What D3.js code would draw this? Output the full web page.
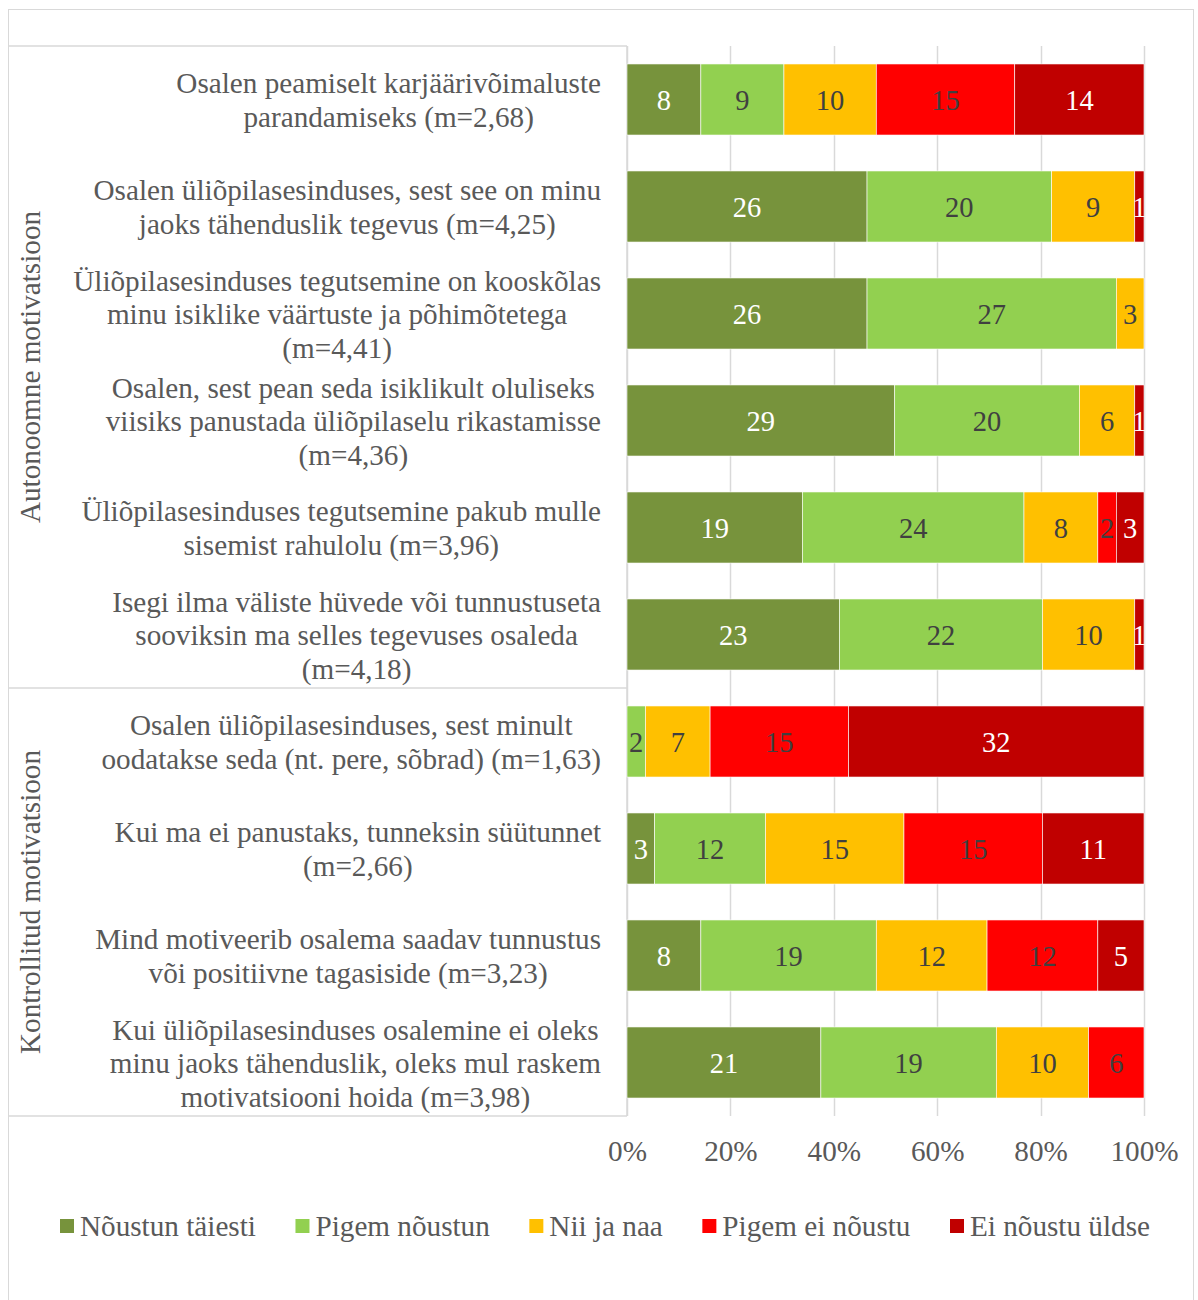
<!DOCTYPE html>
<html>
<head>
<meta charset="utf-8">
<script src="https://cdn.jsdelivr.net/npm/d3@7"></script>
<style>
  body { margin: 0; background: #fff; }
  text { font-family: "Liberation Serif", "Times New Roman", serif; }
</style>
</head>
<body>
<svg id="chart" width="1198" height="1300"></svg>
<script>
// data (counts, 56 respondents per row)
var questions = [
  ["Osalen peamiselt karjäärivõimaluste", "parandamiseks (m=2,68)"],
  ["Osalen üliõpilasesinduses, sest see on minu", "jaoks tähenduslik tegevus (m=4,25)"],
  ["Üliõpilasesinduses tegutsemine on kooskõlas", "minu isiklike väärtuste ja põhimõtetega", "(m=4,41)"],
  ["Osalen, sest pean seda isiklikult oluliseks", "viisiks panustada üliõpilaselu rikastamisse", "(m=4,36)"],
  ["Üliõpilasesinduses tegutsemine pakub mulle", "sisemist rahulolu (m=3,96)"],
  ["Isegi ilma väliste hüvede või tunnustuseta", "sooviksin ma selles tegevuses osaleda", "(m=4,18)"],
  ["Osalen üliõpilasesinduses, sest minult", "oodatakse seda (nt. pere, sõbrad) (m=1,63)"],
  ["Kui ma ei panustaks, tunneksin süütunnet", "(m=2,66)"],
  ["Mind motiveerib osalema saadav tunnustus", "või positiivne tagasiside (m=3,23)"],
  ["Kui üliõpilasesinduses osalemine ei oleks", "minu jaoks tähenduslik, oleks mul raskem", "motivatsiooni hoida (m=3,98)"]
];
var seriesNames = ["Nõustun täiesti", "Pigem nõustun", "Nii ja naa", "Pigem ei nõustu", "Ei nõustu üldse"];
var noustunTaiesti = [8, 26, 26, 29, 19, 23, 0, 3, 8, 21];
var pigemNoustun   = [9, 20, 27, 20, 24, 22, 2, 12, 19, 19];
var niiJaNaa       = [10, 9, 3, 6, 8, 10, 7, 15, 12, 10];
var pigemEiNoustu  = [15, 0, 0, 0, 2, 0, 15, 15, 12, 6];
var eiNoustuUldse  = [14, 1, 0, 1, 3, 1, 32, 11, 5, 0];
var groups = [
  { name: "Autonoomne motivatsioon", from: 0, to: 5 },
  { name: "Kontrollitud motivatsioon", from: 6, to: 9 }
];
var tickValues = [0, 0.2, 0.4, 0.6, 0.8, 1];

var colors = ["#77933C", "#92D050", "#FFC000", "#FF0000", "#C00000"];
var labelColors = ["#ffffff", "#404040", "#404040", "#404040", "#ffffff"];
var textColor = "#595959";
var fs = 29.2;

var allSeries = [noustunTaiesti, pigemNoustun, niiJaNaa, pigemEiNoustu, eiNoustuUldse];
var rows = questions.map(function(q, i) {
  var d = { idx: i };
  seriesNames.forEach(function(s, j) { d[s] = allSeries[j][i]; });
  return d;
});

var svg = d3.select("#chart");
var plotLeft = 627, plotRight = 1144, plotTop = 46, plotBottom = 1116, tableLeft = 8.5;

var x = d3.scaleLinear().domain([0, 1]).range([plotLeft, plotRight]);
var y = d3.scaleBand().domain(d3.range(questions.length)).range([plotTop, plotBottom]).paddingInner(0.336).paddingOuter(0.168);

var stack = d3.stack().keys(seriesNames).offset(d3.stackOffsetExpand);
var series = stack(rows);

// outer frame
svg.append("rect").attr("x", 8.5).attr("y", 9.5).attr("width", 1185).attr("height", 1300)
  .attr("fill", "none").attr("stroke", "#d9d9d9");

// gridlines
svg.append("g").selectAll("line").data(tickValues).enter().append("line")
  .attr("x1", function(d) { return Math.round(x(d)) + 0.5; })
  .attr("x2", function(d) { return Math.round(x(d)) + 0.5; })
  .attr("y1", plotTop).attr("y2", plotBottom)
  .attr("stroke", "#d9d9d9").attr("stroke-width", 1.5);

// category table lines
var step = y.step();
var tbl = svg.append("g").attr("stroke", "#d9d9d9").attr("stroke-width", 1.5);
tbl.append("line").attr("x1", tableLeft).attr("x2", plotLeft).attr("y1", plotTop).attr("y2", plotTop);
tbl.append("line").attr("x1", tableLeft).attr("x2", plotLeft).attr("y1", plotBottom).attr("y2", plotBottom);
tbl.append("line").attr("x1", plotLeft).attr("x2", plotLeft).attr("y1", plotTop).attr("y2", plotBottom);
tbl.append("line").attr("x1", tableLeft).attr("x2", plotLeft)
  .attr("y1", plotTop + step * groups[1].from).attr("y2", plotTop + step * groups[1].from);

// bars
var layer = svg.append("g").selectAll("g").data(series).enter().append("g")
  .attr("fill", function(d, i) { return colors[i]; });
layer.selectAll("rect").data(function(d) { return d; }).enter().append("rect")
  .attr("x", function(d) { return x(d[0]); })
  .attr("width", function(d) { return x(d[1]) - x(d[0]); })
  .attr("y", function(d) { return y(d.data.idx); })
  .attr("height", y.bandwidth())
  .attr("stroke", "#ffffff").attr("stroke-width", 0.6);

// bar labels
series.forEach(function(s, j) {
  svg.append("g").selectAll("text").data(s.filter(function(d) { return d.data[seriesNames[j]] > 0; }))
    .enter().append("text")
    .attr("x", function(d) { return (x(d[0]) + x(d[1])) / 2; })
    .attr("y", function(d) { return y(d.data.idx) + y.bandwidth() / 2; })
    .attr("dy", "0.36em")
    .attr("text-anchor", "middle")
    .attr("font-size", 28.5)
    .attr("fill", labelColors[j])
    .text(function(d) { return d.data[seriesNames[j]]; });
});

// category labels: block right aligned, lines centred within block
var lineH = 33.5;
questions.forEach(function(lines, i) {
  var g = svg.append("g");
  var cy = y(i) + y.bandwidth() / 2;
  var texts = lines.map(function(l, k) {
    return g.append("text")
      .attr("y", cy + (k - (lines.length - 1) / 2) * lineH)
      .attr("dy", "0.36em")
      .attr("text-anchor", "middle")
      .attr("font-size", fs)
      .attr("fill", textColor)
      .text(l);
  });
  var w = d3.max(texts, function(t) { return t.node().getComputedTextLength(); });
  texts.forEach(function(t) { t.attr("x", 601 - w / 2); });
});

// group labels
groups.forEach(function(gr) {
  var cy = plotTop + step * (gr.from + gr.to + 1) / 2;
  svg.append("text")
    .attr("transform", "translate(30," + cy + ") rotate(-90)")
    .attr("dy", "0.35em")
    .attr("text-anchor", "middle")
    .attr("font-size", fs)
    .attr("fill", textColor)
    .text(gr.name);
});

// x axis labels
var xAxis = d3.axisBottom(x).tickValues(tickValues).tickFormat(d3.format(".0%")).tickSize(0).tickPadding(24);
var ax = svg.append("g").attr("transform", "translate(0," + plotBottom + ")").call(xAxis);
ax.select(".domain").remove();
ax.selectAll("text").attr("font-size", fs).attr("fill", textColor)
  .attr("font-family", "Liberation Serif, Times New Roman, serif");

// legend, spread between x=60 and x=1150
var legend = svg.append("g");
var items = seriesNames.map(function(name, i) {
  var g = legend.append("g");
  g.append("rect").attr("width", 14).attr("height", 14).attr("y", -7).attr("fill", colors[i]);
  var t = g.append("text").attr("x", 20).attr("dy", "0.35em").attr("font-size", fs)
    .attr("fill", textColor).text(name);
  return { g: g, w: 20 + t.node().getComputedTextLength() };
});
var sumW = d3.sum(items, function(d) { return d.w; });
var gap = (1150 - 60 - sumW) / (items.length - 1);
var lx = 60;
items.forEach(function(it) {
  it.g.attr("transform", "translate(" + lx + ",1226)");
  lx += it.w + gap;
});
</script>
</body>
</html>
